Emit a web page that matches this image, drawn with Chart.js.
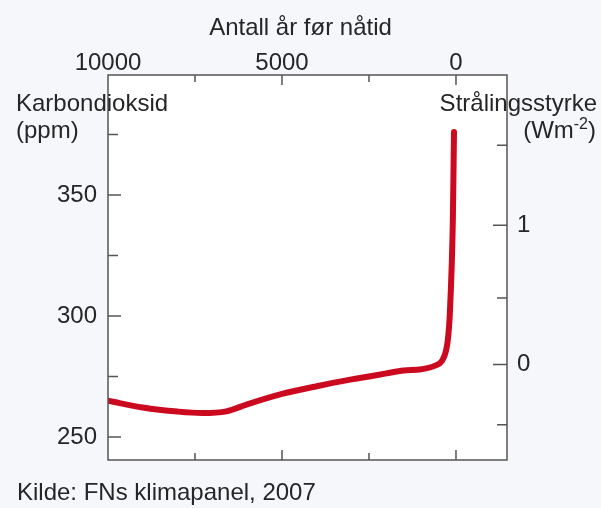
<!DOCTYPE html>
<html>
<head>
<meta charset="utf-8">
<script src="https://cdn.jsdelivr.net/npm/chart.js@4.4.1/dist/chart.umd.min.js"></script>
<style>
  body { margin: 0; background: #f5f7fb; }
  #wrap { width: 601px; height: 508px; }
</style>
</head>
<body>
<div id="wrap"><canvas id="myChart" width="601" height="508"></canvas></div>
<script>
// years before present and CO2 (ppm)
const years = [10000, 9000, 8000, 7300, 6600, 6000, 5000, 4000, 3000, 2500, 2000, 1500, 1000, 600, 400, 280, 220, 180, 150, 120, 90, 57];
const co2 = [265, 262.2, 260.5, 259.9, 260.6, 263.5, 267.8, 271, 273.8, 275, 276.3, 277.5, 278, 279.5, 281.5, 286, 292, 300, 310, 322, 340, 376];

const yearTicks = [10000, 7500, 5000, 2500, 0];
const co2Ticks = [250, 275, 300, 325, 350, 375];
const forcingTicks = [-0.5, 0, 0.5, 1, 1.5];

const FONT = '"Liberation Sans", Arial, sans-serif';
const TEXT = '#262626';
const AXIS = '#555';

// forcing (W/m2) -> ppm, F = 5.35 ln(C/280)
const toPpm = f => 280 * Math.exp(f / 5.35);

const frame = {
  id: 'frame',
  beforeDraw(chart) {
    const { ctx, chartArea: a } = chart;
    ctx.save();
    ctx.fillStyle = '#fff';
    ctx.fillRect(a.left, a.top, a.right - a.left, a.bottom - a.top);
    ctx.restore();
  },
  afterDraw(chart) {
    const { ctx, chartArea: a, scales } = chart;
    ctx.save();
    ctx.strokeStyle = AXIS;
    ctx.lineWidth = 1.5;
    ctx.beginPath();
    scales.x.ticks.forEach(t => {
      const px = scales.x.getPixelForValue(t.value);
      if (Math.abs(px - a.left) < 2) return;
      const len = t.label !== '' ? 10 : 7;
      ctx.moveTo(px, a.top); ctx.lineTo(px, a.top + len);
      ctx.moveTo(px, a.bottom); ctx.lineTo(px, a.bottom - len);
    });
    scales.y.ticks.forEach(t => {
      const py = scales.y.getPixelForValue(t.value);
      const len = t.label !== '' ? 13 : 10;
      ctx.moveTo(a.left, py); ctx.lineTo(a.left + len, py);
    });
    scales.y2.ticks.forEach(t => {
      const py = scales.y2.getPixelForValue(t.value);
      const len = t.label !== '' ? 14 : 10;
      ctx.moveTo(a.right, py); ctx.lineTo(a.right - len, py);
    });
    ctx.stroke();
    ctx.strokeRect(a.left, a.top, a.right - a.left, a.bottom - a.top);

    // axis titles and source
    ctx.fillStyle = TEXT;
    ctx.font = '24px ' + FONT;
    ctx.textBaseline = 'alphabetic';
    ctx.textAlign = 'left';
    ctx.fillText('Karbondioksid', 16, 111);
    ctx.fillText('(ppm)', 16, 138);
    ctx.fillText('Kilde: FNs klimapanel, 2007', 17, 500);
    ctx.textAlign = 'right';
    ctx.fillText('Strålingsstyrke', 597, 111);

    // (Wm-2) with superscript
    ctx.textAlign = 'left';
    const w1 = ctx.measureText('(Wm').width;
    const w3 = ctx.measureText(')').width;
    ctx.font = '16px ' + FONT;
    const w2 = ctx.measureText('-2').width;
    const x0 = 596 - (w1 + w2 + w3);
    ctx.font = '24px ' + FONT;
    ctx.fillText('(Wm', x0, 138);
    ctx.font = '16px ' + FONT;
    ctx.fillText('-2', x0 + w1, 129);
    ctx.font = '24px ' + FONT;
    ctx.fillText(')', x0 + w1 + w2, 138);
    ctx.restore();
  }
};

new Chart(document.getElementById('myChart').getContext('2d'), {
  type: 'line',
  data: {
    datasets: [
      {
        data: years.map((yr, i) => ({ x: yr, y: co2[i] })),
        borderColor: '#cc0a1f',
        borderWidth: 6,
        borderCapStyle: 'round',
        borderJoinStyle: 'round',
        pointRadius: 0,
        cubicInterpolationMode: 'monotone',
        yAxisID: 'y',
      },
    ],
  },
  options: {
    responsive: false,
    animation: false,
    layout: { padding: { left: 0, right: 0, top: 0, bottom: 48 } },
    plugins: {
      legend: { display: false },
      tooltip: { enabled: false },
      title: {
        display: true,
        text: 'Antall år før nåtid',
        color: TEXT,
        font: { family: FONT, size: 24, weight: 'normal' },
        padding: { top: 14, bottom: 0 },
      },
    },
    scales: {
      x: {
        type: 'linear',
        position: 'top',
        reverse: true,
        min: -1466,
        max: 10000,
        grid: { display: false, tickLength: 0 },
        border: { display: false },
        afterBuildTicks: scale => { scale.ticks = yearTicks.map(v => ({ value: v })); },
        afterFit: scale => { scale.height = 32.2; },
        ticks: {
          autoSkip: false,
          maxRotation: 0,
          padding: 0,
          color: TEXT,
          font: { family: FONT, size: 24, lineHeight: 1 },
          callback: v => (v % 5000 === 0 ? String(v) : ''),
        },
      },
      y: {
        type: 'linear',
        position: 'left',
        min: 240.5,
        max: 399.6,
        grid: { display: false, tickLength: 0 },
        border: { display: false },
        afterBuildTicks: scale => { scale.ticks = co2Ticks.map(v => ({ value: v })); },
        afterFit: scale => { scale.width = 108; },
        ticks: {
          autoSkip: false,
          padding: 11,
          color: TEXT,
          font: { family: FONT, size: 24 },
          callback: v => (v % 50 === 0 ? String(v) : ''),
        },
      },
      y2: {
        type: 'linear',
        position: 'right',
        min: 240.5,
        max: 399.6,
        grid: { display: false, tickLength: 0 },
        border: { display: false },
        afterBuildTicks: scale => { scale.ticks = forcingTicks.map(f => ({ value: toPpm(f) })); },
        afterFit: scale => { scale.width = 94; },
        ticks: {
          autoSkip: false,
          padding: 10,
          color: TEXT,
          font: { family: FONT, size: 24 },
          callback: (v, i) => (Number.isInteger(forcingTicks[i]) ? String(forcingTicks[i]) : ''),
        },
      },
    },
  },
  plugins: [frame],
});
</script>
</body>
</html>
